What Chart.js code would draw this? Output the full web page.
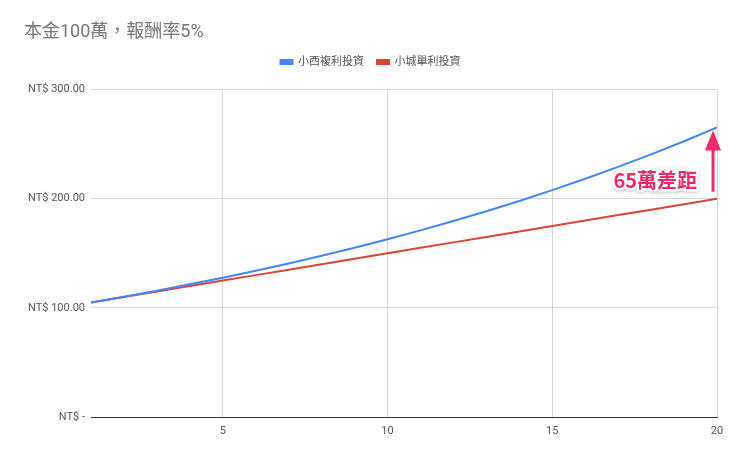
<!DOCTYPE html>
<html>
<head>
<meta charset="utf-8">
<script src="https://cdn.jsdelivr.net/npm/chart.js@4"></script>
<style>
  html, body { margin: 0; padding: 0; background: #fff; }
  #wrap { width: 740px; height: 457px; }
</style>
</head>
<body>
<div id="wrap"><canvas id="chart"></canvas></div>
<script>
// 本金100萬，報酬率5% — 複利 vs 單利
const years = [1,2,3,4,5,6,7,8,9,10,11,12,13,14,15,16,17,18,19,20];
const compound = [105.00,110.25,115.76,121.55,127.63,134.01,140.71,147.75,155.13,162.89,
                  171.03,179.59,188.56,197.99,207.89,218.29,229.20,240.66,252.70,265.33];
const simple = [105,110,115,120,125,130,135,140,145,150,155,160,165,170,175,180,185,190,195,200];
const xTicks = [5, 10, 15, 20];
const yTicks = [0, 100, 200, 300];
const gapLabel = "65萬差距";

const FONT = "Roboto, 'Noto Sans CJK TC', sans-serif";
const BLUE = "#4285f4";
const RED = "#db4437";
const PINK = "#ec2a6a";

const toXY = (arr) => arr.map((v, i) => ({ x: years[i], y: v }));

// 圖例下方多留一點空白
const legendSpace = {
  id: "legendSpace",
  beforeInit(chart) {
    const fit = chart.legend.fit;
    chart.legend.fit = function () { fit.bind(chart.legend)(); this.height += 12; };
  }
};

// 箭頭 + 文字標註，位置取自資料最後一點
const gapArrow = {
  id: "gapArrow",
  afterDatasetsDraw(chart) {
    const { ctx, scales: { x, y } } = chart;
    const last = years.length - 1;
    const px = x.getPixelForValue(years[last]) - 4;
    const top = y.getPixelForValue(compound[last]) + 3;
    const bottom = y.getPixelForValue(simple[last]) - 7;
    ctx.save();
    ctx.strokeStyle = PINK;
    ctx.lineWidth = 3;
    ctx.beginPath();
    ctx.moveTo(px, bottom);
    ctx.lineTo(px, top + 16);
    ctx.stroke();
    ctx.fillStyle = PINK;
    ctx.beginPath();
    ctx.moveTo(px, top);
    ctx.lineTo(px - 8, top + 20);
    ctx.lineTo(px + 8, top + 20);
    ctx.closePath();
    ctx.fill();
    const ty = y.getPixelForValue((compound[last] + simple[last]) / 2) + 17;
    ctx.font = "bold 20px 'Noto Sans CJK TC', sans-serif";
    ctx.textAlign = "right";
    ctx.textBaseline = "middle";
    ctx.lineJoin = "round";
    ctx.shadowColor = "rgba(0,0,0,0.25)";
    ctx.shadowBlur = 3;
    ctx.shadowOffsetY = 1;
    ctx.strokeStyle = "#fff";
    ctx.lineWidth = 5;
    ctx.strokeText(gapLabel, px - 16, ty);
    ctx.shadowColor = "transparent";
    ctx.fillText(gapLabel, px - 16, ty);
    ctx.restore();
  }
};

new Chart(document.getElementById("chart"), {
  type: "line",
  data: {
    datasets: [
      { label: "小西複利投資", data: toXY(compound), borderColor: BLUE, backgroundColor: BLUE,
        borderWidth: 2, pointRadius: 0, tension: 0 },
      { label: "小城單利投資", data: toXY(simple), borderColor: RED, backgroundColor: RED,
        borderWidth: 2, pointRadius: 0, tension: 0 },
    ],
  },
  options: {
    responsive: true,
    maintainAspectRatio: false,
    animation: false,
    layout: { padding: { left: 24, right: 23, top: 0, bottom: 0 } },
    plugins: {
      title: {
        display: true, text: "本金100萬，報酬率5%", align: "start",
        color: "#757575", font: { family: FONT, size: 18, weight: "normal" },
        padding: { top: 22, bottom: 0 },
      },
      legend: {
        position: "top",
        labels: {
          color: "#555", font: { family: FONT, size: 11 },
          boxWidth: 12, boxHeight: 4, padding: 13,
        },
      },
      tooltip: { enabled: false },
    },
    scales: {
      x: {
        type: "linear", min: 1, max: 20,
        afterBuildTicks: (axis) => { axis.ticks = xTicks.map((v) => ({ value: v })); },
        afterFit: (scale) => { scale.height = 40; },
        grid: { color: "#d6d6d6", drawTicks: false },
        border: { display: true, color: "#333", width: 1 },
        ticks: { color: "#555", font: { family: FONT, size: 11 }, padding: 8 },
      },
      y: {
        min: 0, max: 300,
        afterBuildTicks: (axis) => { axis.ticks = yTicks.map((v) => ({ value: v })); },
        afterFit: (scale) => { scale.width = 67; },
        grid: { color: (c) => (c.tick && c.tick.value === 0 ? "#333" : "#d6d6d6"), drawTicks: false },
        border: { display: false },
        ticks: {
          color: "#555", font: { family: FONT, size: 11 }, padding: 6,
          callback: (v) => (v === 0 ? "NT$ -" : "NT$ " + v.toFixed(2)),
        },
      },
    },
  },
  plugins: [legendSpace, gapArrow],
});
</script>
</body>
</html>
